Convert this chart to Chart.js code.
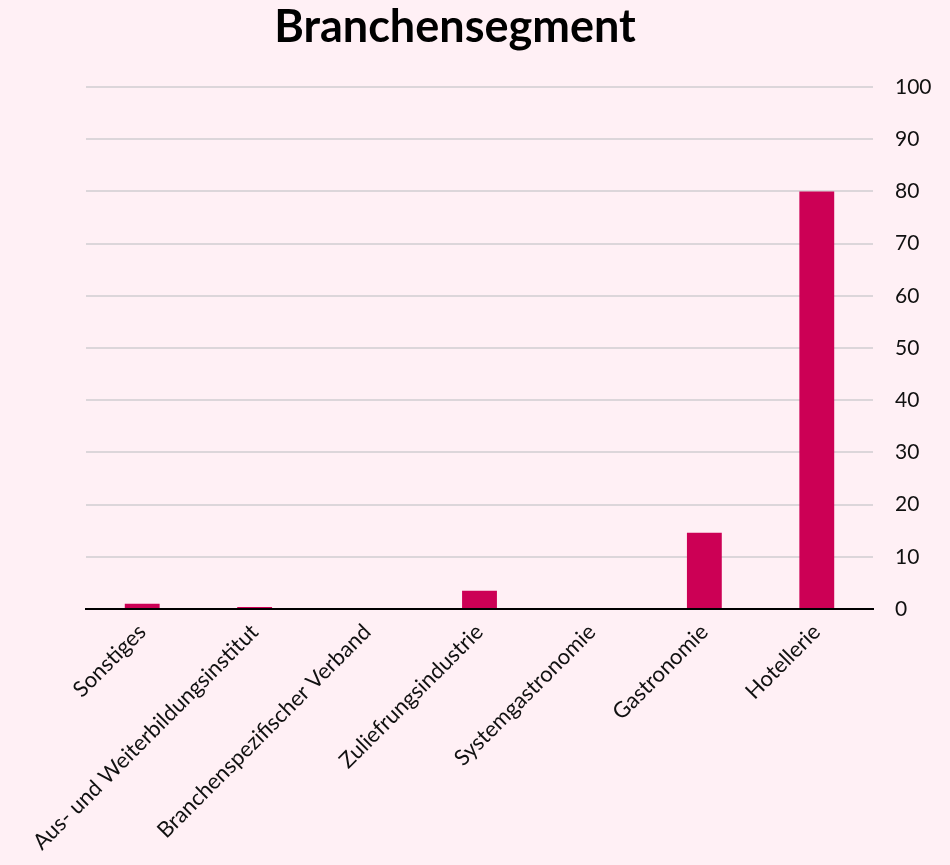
<!DOCTYPE html>
<html>
<head>
<meta charset="utf-8">
<script src="https://cdn.jsdelivr.net/npm/chart.js@4"></script>
<style>
  html, body { margin: 0; padding: 0; background: #fff0f5; }
  #wrap { width: 950px; height: 865px; }
</style>
</head>
<body>
<div id="wrap"><canvas id="chart" width="950" height="865"></canvas></div>
<script>
// Branchensegment values (percent)
const categories = [
  "Sonstiges",
  "Aus- und Weiterbildungsinstitut",
  "Branchenspezifischer Verband",
  "Zuliefrungsindustrie",
  "Systemgastronomie",
  "Gastronomie",
  "Hotellerie"
];
const values = [1.0, 0.4, 0, 3.5, 0, 14.6, 80];
const yTicks = [0, 10, 20, 30, 40, 50, 60, 70, 80, 90, 100];
const chartTitle = 'Branchensegment';

const labelFont = "Lato, 'Open Sans', sans-serif";

// title sits a little left of the canvas centre, so it is drawn by hand
const titlePlugin = {
  id: 'headTitle',
  afterDraw(chart) {
    const ctx = chart.ctx;
    ctx.save();
    ctx.font = "bold 45px " + labelFont;
    ctx.fillStyle = '#000';
    ctx.textAlign = 'center';
    ctx.textBaseline = 'middle';
    ctx.fillText(chartTitle, 455, 27);
    ctx.restore();
  }
};

new Chart(document.getElementById('chart'), {
  type: 'bar',
  data: {
    labels: categories,
    datasets: [{
      data: values,
      backgroundColor: '#cc0055',
      barPercentage: 0.31,
      categoryPercentage: 1
    }]
  },
  plugins: [titlePlugin],
  options: {
    responsive: false,
    animation: false,
    layout: { padding: { left: 0, right: 0, top: 87, bottom: 0 } },
    plugins: {
      legend: { display: false },
      tooltip: { enabled: false },
      title: { display: false }
    },
    scales: {
      x: {
        grid: { display: false },
        border: { color: '#000', width: 2 },
        ticks: {
          color: '#111',
          font: { family: labelFont, size: 22 },
          maxRotation: 45,
          minRotation: 45,
          autoSkip: false,
          padding: 2
        },
        afterFit: s => { s.height = 256; s.paddingLeft = 0; s.paddingRight = 0; }
      },
      y: {
        position: 'right',
        min: 0,
        max: 100,
        afterBuildTicks: axis => { axis.ticks = yTicks.map(v => ({ value: v })); },
        grid: { color: '#dcd6da', lineWidth: 2, drawTicks: false },
        border: { display: false },
        ticks: {
          color: '#111',
          font: { family: labelFont, size: 21 },
          padding: 22
        },
        afterFit: s => { s.width = 77; }
      },
      // empty left axis that only reserves room on the left
      yLeft: {
        position: 'left',
        grid: { display: false },
        border: { display: false },
        ticks: { display: false },
        afterFit: s => { s.width = 86; }
      }
    }
  }
});
</script>
</body>
</html>
